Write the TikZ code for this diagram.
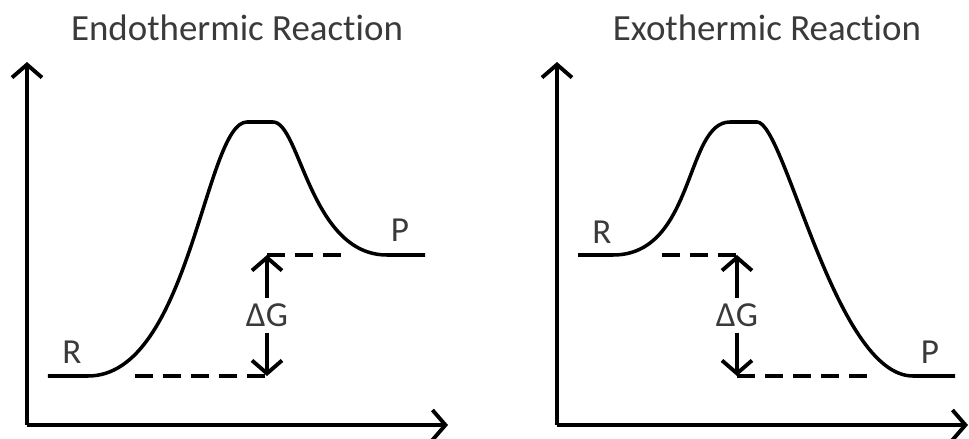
\documentclass[tikz,border=0pt]{standalone}
\usepackage{fontspec}
\setmainfont[Ligatures={NoCommon}]{Carlito}
\usepackage{tikz}
\usetikzlibrary{positioning,arrows.meta}
\usepackage{xcolor}
\definecolor{labelgray}{HTML}{3A3A3A}

\begin{document}
\begin{tikzpicture}[
      axis/.style={line width=1.1pt,-{Straight Barb[length=1.3mm,width=3mm,line width=1.1pt]}},
      curve/.style={line width=1pt},
      level/.style={line width=1pt,dash pattern=on 0.18cm off 0.1cm},
      dgarrow/.style={line width=1.1pt,-{Straight Barb[length=1.3mm,width=3mm,line width=1.1pt]}},
      title/.style={font=\fontsize{10.5}{12}\selectfont,text=labelgray},
      lbl/.style={font=\fontsize{10}{12}\selectfont,text=labelgray,inner sep=1.5pt}
    ]
      \useasboundingbox (0,0) rectangle (9.69,4.38);
      % endothermic
      \node[title] (endo) at (2.37,4.10) {Endothermic Reaction};
      \coordinate (o1) at (0.27,0.13);
      \coordinate (y1) at (0.27,3.76);
      \coordinate (x1) at (4.48,0.13);
      \draw[axis] (o1) -- (y1);
      \draw[axis] (o1) -- (x1);
      \draw[curve] (0.48,0.62) -- (0.88,0.62) .. controls (1.9,0.62) and (2.05,3.16) .. (2.47,3.16)
        -- (2.73,3.16) .. controls (3.0,3.16) and (3.1,1.83) .. (3.87,1.83) -- (4.25,1.83);
      \coordinate (rl1) at (1.35,0.62);
      \coordinate (rl2) at (2.67,0.62);
      \coordinate (pl1) at (2.67,1.83);
      \coordinate (pl2) at (3.42,1.83);
      \draw[level] (rl1) -- (rl2);
      \draw[level] (pl1) -- (pl2);
      \node[lbl] (dg1) at (2.67,1.23) {ΔG};
      \draw[dgarrow] (dg1.north) -- (pl1);
      \draw[dgarrow] (dg1.south) -- (rl2);
      \node[lbl] (r1) at (0.72,0.86) {R};
      \node[lbl] (p1) at (4.00,2.08) {P};
      % exothermic
      \node[title] (exo) at (7.67,4.10) {Exothermic Reaction};
      \coordinate (o2) at (5.57,0.13);
      \coordinate (y2) at (5.57,3.76);
      \coordinate (x2) at (9.68,0.13);
      \draw[axis] (o2) -- (y2);
      \draw[axis] (o2) -- (x2);
      \draw[curve] (5.78,1.83) -- (6.13,1.83) .. controls (6.95,1.83) and (6.85,3.16) .. (7.30,3.16)
        -- (7.57,3.16) .. controls (7.85,3.16) and (8.35,0.62) .. (9.13,0.62) -- (9.55,0.62);
      \coordinate (rr1) at (6.62,1.83);
      \coordinate (rr2) at (7.37,1.83);
      \coordinate (pr1) at (7.37,0.62);
      \coordinate (pr2) at (8.68,0.62);
      \draw[level] (rr1) -- (rr2);
      \draw[level] (pr1) -- (pr2);
      \node[lbl] (dg2) at (7.37,1.23) {ΔG};
      \draw[dgarrow] (dg2.north) -- (rr2);
      \draw[dgarrow] (dg2.south) -- (pr1);
      \node[lbl] (r2) at (6.02,2.06) {R};
      \node[lbl] (p2) at (9.30,0.86) {P};
    \end{tikzpicture}
\end{document}
